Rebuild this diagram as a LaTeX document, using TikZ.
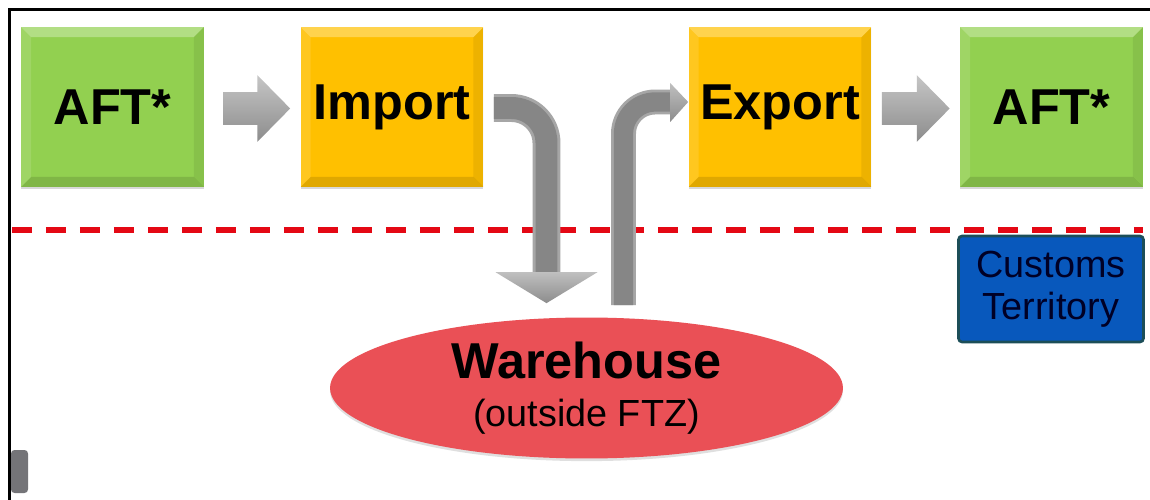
\documentclass[tikz,border=0pt]{standalone}
\usepackage{fontspec}
\setmainfont{Liberation Sans}
\usetikzlibrary{calc,shapes.geometric,shadows}
\definecolor{AftClr}{RGB}{146,208,80}
\definecolor{PortClr}{RGB}{255,192,0}
\definecolor{TerrClr}{RGB}{8,88,188}
\definecolor{TerrLine}{RGB}{28,78,88}
\definecolor{WareClr}{RGB}{234,80,86}
\definecolor{LineClr}{RGB}{228,8,20}
\definecolor{TabClr}{RGB}{116,116,120}

\tikzset{
  stagebox/.style={rectangle,inner sep=0pt,minimum width=3.66cm,minimum height=3.2cm,
    font=\fontsize{28.7}{32}\selectfont\bfseries,
    drop shadow={shadow xshift=0pt,shadow yshift=-1.2pt,opacity=.3},
    path picture={
      \coordinate (nw) at (path picture bounding box.north west);
      \coordinate (ne) at (path picture bounding box.north east);
      \coordinate (sw) at (path picture bounding box.south west);
      \coordinate (se) at (path picture bounding box.south east);
      \fill[white,opacity=.3] (nw) -- (ne) -- ([shift={(-.2cm,-.2cm)}]ne) -- ([shift={(.2cm,-.2cm)}]nw) -- cycle;
      \fill[white,opacity=.12] (nw) -- (sw) -- ([shift={(.2cm,.2cm)}]sw) -- ([shift={(.2cm,-.2cm)}]nw) -- cycle;
      \fill[black,opacity=.12] (sw) -- (se) -- ([shift={(-.2cm,.2cm)}]se) -- ([shift={(.2cm,.2cm)}]sw) -- cycle;
      \fill[black,opacity=.07] (ne) -- (se) -- ([shift={(-.2cm,.2cm)}]se) -- ([shift={(-.2cm,-.2cm)}]ne) -- cycle;
    }},
  aftbox/.style={stagebox,fill=AftClr},
  portbox/.style={stagebox,fill=PortClr},
  terrbox/.style={rectangle,rounded corners=2pt,draw=TerrLine,line width=1.5pt,fill=TerrClr,
    minimum width=3.7cm,minimum height=2.12cm,align=center,
    font=\fontsize{21.5}{24}\selectfont,text=black!85!blue},
  wareell/.style={ellipse,inner sep=0pt,fill=WareClr,minimum width=10.26cm,minimum height=2.82cm,
    align=center,font=\fontsize{21.5}{27.2}\selectfont,
    drop shadow={shadow xshift=0pt,shadow yshift=-1.5pt,opacity=.25}},
  downshaft/.style={line width=1.7pt,draw=gray!70,double=gray!95,double distance=12.5pt},
  upshaft/.style={line width=1.6pt,draw=gray!70,double=gray!95,double distance=11pt},
}

% flat block arrow between two points
\newcommand\blockarrow[2]{%
  \path[top color=gray!45,bottom color=gray!90]
    let \p1=(#1), \p2=(#2) in
    (\x1,\y1+9.3pt) -- (\x2-18.7pt,\y1+9.3pt) -- (\x2-18.7pt,\y1+19pt) -- (\x2,\y1)
    -- (\x2-18.7pt,\y1-19pt) -- (\x2-18.7pt,\y1-9.3pt) -- (\x1,\y1-9.3pt) -- cycle;}

\begin{document}
\begin{tikzpicture}[x=0.02cm,y=-0.02cm]
\fill[white] (0,0) rectangle (1150,500);
\useasboundingbox (0,0) rectangle (1150,500);

% frame
\draw[line width=1.7pt] (9.5,500) -- (9.5,9.5) -- (1150,9.5);
\fill[TabClr,rounded corners=2pt] (11,450) rectangle (28,493);

% border of the customs territory
\draw[LineClr,line width=3.4pt,dash pattern=on 0.4cm off 0.28cm] (12,230) -- (1143,230);

\node[aftbox] (aftl) at (112.5,107) {AFT*};
\node[portbox] (imp) at (392,107) {Import};
\node[portbox] (exp) at (780,107) {Export};
\node[aftbox] (aftr) at (1051.5,107) {AFT*};
\node[terrbox] (terr) at (1051,289) {Customs\\Territory};
\node[wareell] (wh) at (586.5,388) {{\fontsize{28.7}{27.2}\selectfont\bfseries Warehouse}\\(outside FTZ)};

\blockarrow{$(aftl.east)+(19,1.5)$}{$(imp.west)+(-10,1.5)$}
\blockarrow{$(exp.east)+(10,1.5)$}{$(aftr.west)+(-10,1.5)$}

% into the warehouse
\coordinate (dn0) at ($(imp.east)+(10,1)$);
\coordinate (dn1) at ($(wh.north)+(-40,-45)$);
\coordinate (dn2) at ($(wh.north)+(-40,-14)$);
\draw[downshaft,rounded corners=20pt] (dn0) -| (dn1);
\shade[top color=gray!50,bottom color=gray!90] ($(dn1)+(-51,0)$) -- ($(dn1)+(51,0)$) -- (dn2) -- cycle;

% back out to export
\coordinate (up0) at ($(wh.north)+(37,-12)$);
\coordinate (up1) at ($(exp.west)+(-18,-5)$);
\draw[upshaft,rounded corners=18pt] (up0) |- (up1);
\shade[top color=gray!50,bottom color=gray!90] ($(up1)+(0,-19)$) -- ($(up1)+(0,20)$) -- ($(exp.west)+(0,-5)$) -- cycle;

\end{tikzpicture}
\end{document}
